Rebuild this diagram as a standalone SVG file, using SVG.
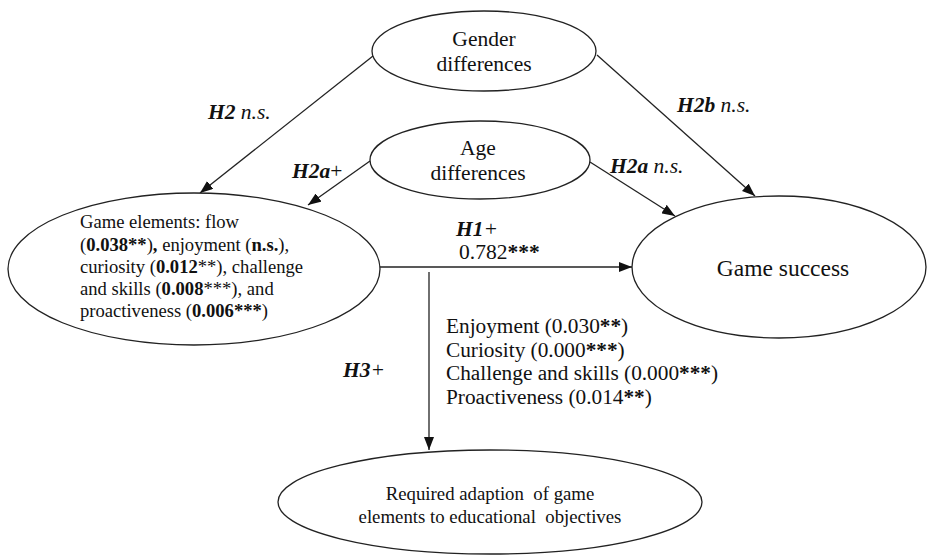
<svg xmlns="http://www.w3.org/2000/svg" width="927" height="555" viewBox="0 0 927 555">
<style>
.node{fill:#fff;stroke:#222;stroke-width:1.3}
.t{font-family:"Liberation Serif","Times New Roman",serif;fill:#111;white-space:pre}
.lbl{font-family:"Liberation Serif","Times New Roman",serif;fill:#111;font-size:21.5px}
.lst{font-family:"Liberation Serif","Times New Roman",serif;fill:#111;font-size:21.3px}
.edge{stroke:#222;stroke-width:1.3;fill:none;marker-end:url(#ah)}
.b{font-weight:bold}
.bi{font-weight:bold;font-style:italic}
.i{font-style:italic}
</style>
<defs>
<marker id="ah" markerUnits="userSpaceOnUse" markerWidth="14" markerHeight="10" refX="13" refY="5" orient="auto">
<path d="M0,0 L13,5 L0,10 z" fill="#111"/>
</marker>
</defs>
<rect width="927" height="555" fill="#fff"/>
<g id="connectors">
<line class="edge" x1="373" y1="56" x2="200" y2="193"/>
<line class="edge" x1="370" y1="161" x2="308" y2="205"/>
<line class="edge" x1="597" y1="55" x2="755" y2="196"/>
<line class="edge" x1="590" y1="162" x2="675" y2="216"/>
<line class="edge" x1="380" y1="267" x2="632" y2="267"/>
<line class="edge" x1="429" y1="272" x2="429" y2="450"/>
<text class="lbl" x="208" y="119"><tspan class="bi">H2</tspan><tspan class="i"> n.s.</tspan></text>
<text class="lbl" x="292" y="178"><tspan class="bi">H2a</tspan>+</text>
<text class="lbl" x="677" y="112"><tspan class="bi">H2b</tspan><tspan class="i"> n.s.</tspan></text>
<text class="lbl" x="610" y="173"><tspan class="bi">H2a</tspan><tspan class="i"> n.s.</tspan></text>
<text class="lbl" x="456" y="236"><tspan class="bi">H1</tspan><tspan class="i">+</tspan></text>
<text class="lbl" x="459" y="259">0.782<tspan class="b">***</tspan></text>
<text class="lbl" x="343" y="377"><tspan class="bi">H3</tspan><tspan class="i">+</tspan></text>
<g class="lst">
<text x="446" y="333">Enjoyment (0.030<tspan class="b">**</tspan>)</text>
<text x="446" y="357">Curiosity (0.000<tspan class="b">***</tspan>)</text>
<text x="446" y="380">Challenge and skills (0.000<tspan class="b">***</tspan>)</text>
<text x="446" y="404">Proactiveness (0.014<tspan class="b">**</tspan>)</text>
</g>
</g>
<g id="gender">
<ellipse class="node" cx="484" cy="51" rx="112" ry="40"/>
<text class="t" font-size="21.5" x="484" y="46" text-anchor="middle">Gender</text>
<text class="t" font-size="21.5" x="484" y="71" text-anchor="middle">differences</text>
</g>
<g id="age">
<ellipse class="node" cx="480" cy="160" rx="110" ry="39"/>
<text class="t" font-size="21.5" x="478" y="155" text-anchor="middle">Age</text>
<text class="t" font-size="21.5" x="478" y="180" text-anchor="middle">differences</text>
</g>
<g id="game-elements">
<ellipse class="node" cx="194" cy="269" rx="186" ry="76"/>
<g class="t" font-size="18.6">
<text x="80" y="228">Game elements:  flow</text>
<text x="80" y="251">(<tspan class="b">0.038**</tspan>)<tspan class="b">,</tspan> enjoyment (<tspan class="b">n.s.</tspan>),</text>
<text x="80" y="273">curiosity (<tspan class="b">0.012</tspan>**), challenge</text>
<text x="80" y="295">and skills (<tspan class="b">0.008</tspan>***), and</text>
<text x="80" y="317">proactiveness (<tspan class="b">0.006***</tspan>)</text>
</g>
</g>
<g id="game-success">
<ellipse class="node" cx="779" cy="267" rx="147" ry="71"/>
<text class="t" font-size="23.5" x="783" y="276" text-anchor="middle">Game success</text>
</g>
<g id="adaption">
<ellipse class="node" cx="490" cy="502" rx="212" ry="52"/>
<text class="t" font-size="18.8" x="490" y="500" text-anchor="middle">Required adaption  of game</text>
<text class="t" font-size="18.8" x="490" y="523" text-anchor="middle">elements to educational  objectives</text>
</g>
</svg>
